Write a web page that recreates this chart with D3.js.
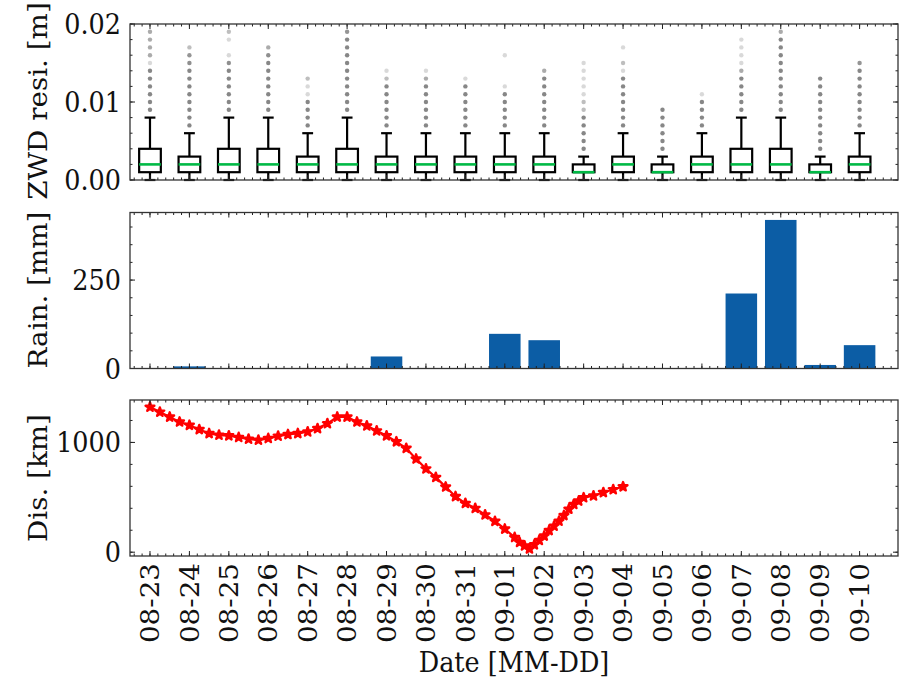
<!DOCTYPE html>
<html><head><meta charset="utf-8">
<script src="https://cdn.jsdelivr.net/npm/d3@7"></script>
<style>
body{margin:0;background:#fff}
text{font-family:"DejaVu Serif",serif;fill:#111}
</style>
</head><body>
<svg id="c" width="900" height="681"></svg>
<script>
// ---------------- DATA ----------------
const dates = ["08-23","08-24","08-25","08-26","08-27","08-28","08-29","08-30","08-31",
               "09-01","09-02","09-03","09-04","09-05","09-06","09-07","09-08","09-09","09-10"];

// ZWD residual box statistics [m]
const whiskerLow  = [0,0,0,0,0,0,0,0,0,0,0,0,0,0,0,0,0,0,0];
const q1          = [0.001,0.001,0.001,0.001,0.001,0.001,0.001,0.001,0.001,0.001,0.001,0.001,0.001,0.001,0.001,0.001,0.001,0.001,0.001];
const median      = [0.002,0.002,0.002,0.002,0.002,0.002,0.002,0.002,0.002,0.002,0.002,0.001,0.002,0.001,0.002,0.002,0.002,0.001,0.002];
const q3          = [0.004,0.003,0.004,0.004,0.003,0.004,0.003,0.003,0.003,0.003,0.003,0.002,0.003,0.002,0.003,0.004,0.004,0.002,0.003];
const whiskerHigh = [0.008,0.006,0.008,0.008,0.006,0.008,0.006,0.006,0.006,0.006,0.006,0.003,0.006,0.003,0.006,0.008,0.008,0.003,0.006];

// outliers per day: [value, number of overlapping points]
const fliers = [
  [[0.009,8],[0.010,8],[0.011,8],[0.012,8],[0.013,8],[0.014,8],[0.015,1],[0.016,3],[0.017,3],[0.018,3],[0.019,3]],
  [[0.007,8],[0.008,8],[0.009,8],[0.010,8],[0.011,8],[0.012,8],[0.013,8],[0.014,8],[0.015,6],[0.016,5],[0.017,2]],
  [[0.009,8],[0.010,8],[0.011,8],[0.012,8],[0.013,8],[0.014,8],[0.015,6],[0.016,1],[0.018,1],[0.019,2]],
  [[0.009,8],[0.010,8],[0.011,8],[0.012,8],[0.013,8],[0.014,8],[0.015,8],[0.016,6],[0.017,3]],
  [[0.007,8],[0.008,8],[0.009,8],[0.010,8],[0.011,1],[0.012,1],[0.013,2]],
  [[0.009,8],[0.010,8],[0.011,8],[0.012,8],[0.013,8],[0.014,8],[0.015,8],[0.016,8],[0.017,8],[0.018,8],[0.019,5]],
  [[0.007,8],[0.008,8],[0.009,8],[0.010,8],[0.011,8],[0.012,8],[0.013,2],[0.014,1]],
  [[0.007,8],[0.008,8],[0.009,8],[0.010,8],[0.011,8],[0.012,8],[0.013,3],[0.014,1]],
  [[0.007,8],[0.008,8],[0.009,8],[0.010,8],[0.011,8],[0.012,8],[0.013,1]],
  [[0.007,8],[0.008,8],[0.009,8],[0.010,8],[0.011,8],[0.012,1],[0.016,1]],
  [[0.007,8],[0.008,8],[0.009,8],[0.010,8],[0.011,8],[0.012,8],[0.013,8],[0.014,3]],
  [[0.004,8],[0.005,8],[0.006,8],[0.007,8],[0.008,8],[0.009,2],[0.010,2],[0.011,1],[0.012,1],[0.013,1],[0.014,1],[0.015,1]],
  [[0.007,8],[0.008,8],[0.009,8],[0.010,8],[0.011,8],[0.012,8],[0.013,8],[0.014,1],[0.015,2],[0.017,1]],
  [[0.004,8],[0.005,8],[0.006,8],[0.007,8],[0.008,8],[0.009,8]],
  [[0.007,8],[0.008,8],[0.009,8],[0.010,8],[0.011,1]],
  [[0.009,8],[0.010,8],[0.011,8],[0.012,8],[0.013,8],[0.014,3],[0.015,1],[0.016,1],[0.017,1],[0.018,1]],
  [[0.009,8],[0.010,8],[0.011,8],[0.012,8],[0.013,8],[0.014,8],[0.015,8],[0.016,8],[0.017,8],[0.018,8],[0.019,3]],
  [[0.004,8],[0.005,8],[0.006,8],[0.007,8],[0.008,8],[0.009,8],[0.010,8],[0.011,8],[0.012,8],[0.013,8]],
  [[0.007,8],[0.008,8],[0.009,8],[0.010,8],[0.011,8],[0.012,8],[0.013,8],[0.014,8],[0.015,5]]
];

// daily rainfall [mm]
const rain = [0,6,0,0,0,0,34,0,0,98,80,0,0,0,0,212,420,10,66];

// distance time series: days since 08-23 00:00, distance [km]
const distDay = [0,0.25,0.5,0.75,1,1.25,1.5,1.75,2,2.25,2.5,2.75,3,3.25,3.5,3.75,4,4.25,4.5,4.75,
  5,5.25,5.5,5.75,6,6.25,6.5,6.75,7,7.25,7.5,7.75,8,8.25,8.5,8.75,9,9.25,
  9.375,9.5,9.625,9.75,9.875,10,10.125,10.25,10.375,10.5,10.625,10.75,10.875,11,
  11.25,11.5,11.75,12];
const distKm = [1322,1277,1232,1187,1157,1118,1082,1067,1061,1046,1031,1022,1037,1058,1073,1082,1097,1127,1172,1232,
  1232,1187,1151,1106,1061,1007,947,850,760,682,595,508,445,400,341,282,212,135,
  90,58,30,68,108,148,198,238,283,335,392,436,467,497,
  514,544,571,597];

// tick values
const zwdTicks = [0, 0.01, 0.02];
const rainTicks = [0, 250];
const distTicks = [0, 1000];

// ---------------- LAYOUT ----------------
const svg = d3.select("#c");
const L = 130, R = 898;
const panels = [{top:24, bottom:180},{top:212.5, bottom:368.5},{top:400, bottom:556}];
const x = d3.scaleLinear().domain([-0.507, 18.974]).range([L, R]);
const FS = 25.5, SY = 1.09;   // font size, vertical stretch of glyphs

const yZ = d3.scaleLinear().domain([0, 0.02]).range([panels[0].bottom, panels[0].top]);
const yR = d3.scaleLinear().domain([0, d3.max(rain)*1.05]).range([panels[1].bottom, panels[1].top]);
const dMin = d3.min(distKm), dMax = d3.max(distKm), pad = (dMax-dMin)*0.05;
const yD = d3.scaleLinear().domain([dMin-pad, dMax+pad]).range([panels[2].bottom, panels[2].top]);

function range(a,b,s){const r=[];for(let v=a;v<=b+1e-9;v+=s)r.push(+v.toFixed(6));return r;}

function label(sel, tx, ty, rot, anchor, str){
  return sel.append("text")
    .attr("transform",`translate(${tx},${ty}) scale(1,${SY})${rot?` rotate(${rot})`:""}`)
    .attr("text-anchor",anchor).attr("dy","0.36em").attr("font-size",FS).text(str);
}

function frame(p, y, major, minorStep, fmt, lab, labelY){
  const g = svg.append("g");
  const [d0,d1] = y.domain();
  const minor = range(Math.ceil(d0/minorStep)*minorStep, d1, minorStep);
  const xMinor = range(Math.ceil(x.domain()[0]/0.2)*0.2, x.domain()[1], 0.2);
  const xMajor = dates.map((d,i)=>i);
  const clip = v => v>=d0-1e-9 && v<=d1+1e-9;
  const tick = (x1,y1,x2,y2)=>g.append("line").attr("x1",x1).attr("y1",y1).attr("x2",x2).attr("y2",y2)
     .attr("stroke","#222").attr("stroke-width",1);
  minor.filter(clip).forEach(v=>{ tick(L,y(v),L+2.5,y(v)); tick(R,y(v),R-2.5,y(v)); });
  major.filter(clip).forEach(v=>{ tick(L,y(v),L+5,y(v)); tick(R,y(v),R-5,y(v));
    label(g, L-9, y(v), 0, "end", fmt(v));
  });
  xMinor.forEach(v=>{ tick(x(v),p.bottom,x(v),p.bottom-2.5); tick(x(v),p.top,x(v),p.top+2.5); });
  xMajor.forEach(v=>{ tick(x(v),p.bottom,x(v),p.bottom-5); tick(x(v),p.top,x(v),p.top+5); });
  label(g, 38, labelY, -90, "middle", lab);
  return g;
}

// ---------- Panel 1: box plots ----------
const g1 = svg.append("g");
const bw = x(0.275) - x(0);      // half box width
const cw = bw/2;                 // half cap width
dates.forEach((d,i)=>{
  const cx = x(i);
  fliers[i].forEach(([v,n])=>{
    g1.append("circle").attr("cx",cx).attr("cy",yZ(v)).attr("r",2.2)
      .attr("fill","#808080").attr("fill-opacity",1-Math.pow(0.7,n));
  });
  const ln = (x1,y1,x2,y2,c,w)=>g1.append("line").attr("x1",x1).attr("y1",y1).attr("x2",x2).attr("y2",y2)
     .attr("stroke",c).attr("stroke-width",w);
  ln(cx,yZ(q1[i]),cx,yZ(whiskerLow[i]),"#000",2.2);
  ln(cx,yZ(q3[i]),cx,yZ(whiskerHigh[i]),"#000",2.2);
  ln(cx-cw,yZ(whiskerLow[i]),cx+cw,yZ(whiskerLow[i]),"#000",2.2);
  ln(cx-cw,yZ(whiskerHigh[i]),cx+cw,yZ(whiskerHigh[i]),"#000",2.2);
  g1.append("rect").attr("x",cx-bw).attr("y",yZ(q3[i])).attr("width",2*bw)
    .attr("height",yZ(q1[i])-yZ(q3[i])).attr("fill","none").attr("stroke","#000").attr("stroke-width",2.2);
  ln(cx-bw,yZ(median[i]),cx+bw,yZ(median[i]),"#00B945",2.6);
});
frame(panels[0], yZ, zwdTicks, 0.002, d3.format(".2f"), "ZWD resi. [m]", 101);

// ---------- Panel 2: rain bars ----------
const g2 = svg.append("g");
rain.forEach((v,i)=>{
  g2.append("rect").attr("x",x(i-0.4)).attr("width",x(i+0.4)-x(i-0.4))
    .attr("y",yR(v)).attr("height",yR(0)-yR(v)).attr("fill","#0C5DA5");
});
frame(panels[1], yR, rainTicks, 50, d3.format("d"), "Rain. [mm]", 290);

// ---------- Panel 3: distance ----------
const g3 = svg.append("g");
const pts = distDay.map((d,i)=>[x(d), yD(distKm[i])]);
g3.append("path").attr("d",d3.line()(pts)).attr("fill","none").attr("stroke","#ff0000").attr("stroke-width",2.2);
pts.forEach(p=>{
  g3.append("path").attr("d",d3.symbol(d3.symbolStar,24)()).attr("transform",`translate(${p[0]},${p[1]})`)
    .attr("fill","#ff0000").attr("stroke","#ff0000").attr("stroke-width",2.4).attr("stroke-linejoin","round");
});
frame(panels[2], yD, distTicks, 200, d3.format("d"), "Dis. [km]", 478);

// x tick labels
dates.forEach((d,i)=>{ label(svg, x(i), 563, -90, "end", d); });
label(svg, (L+R)/2, 662, 0, "middle", "Date [MM-DD]");

// spines
panels.forEach(p=>{
  svg.append("rect").attr("x",L).attr("y",p.top).attr("width",R-L).attr("height",p.bottom-p.top)
    .attr("fill","none").attr("stroke","#333").attr("stroke-width",1.3);
});
</script>
</body></html>
